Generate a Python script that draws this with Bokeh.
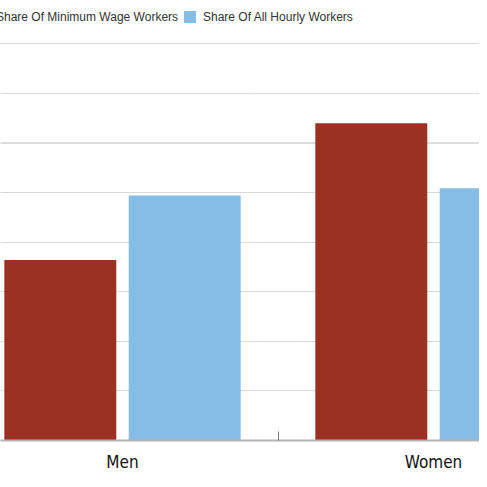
from bokeh.plotting import figure
from bokeh.models import Range1d, FixedTicker, Legend, LegendItem, Span, ColumnDataSource
from bokeh.embed import file_html
from bokeh.resources import INLINE

categories = ["Men", "Women"]
min_wage_share = [36.4, 64.0]
hourly_share = [49.4, 50.9]
series_names = ["Share Of Minimum Wage Workers", "Share Of All Hourly Workers"]
grid_ticks = [10, 20, 30, 40, 50, 60, 70, 80]
RED = "#9a3122"
BLUE = "#85bde6"

xs = list(range(len(categories)))
src = ColumnDataSource(dict(
    x=xs,
    xmin=[v - 0.2 for v in xs],
    xhr=[v + 0.2 for v in xs],
    mw=min_wage_share,
    hr=hourly_share,
))

p = figure(width=479, height=479, output_backend="svg", toolbar_location=None,
           x_range=Range1d(-0.3923, 1.1479), y_range=Range1d(0, 88.75),
           min_border_left=0, min_border_right=0, min_border_top=0, min_border_bottom=39,
           y_axis_location=None)
p.outline_line_color = None
p.background_fill_color = "white"

r1 = p.vbar(x="xmin", top="mw", width=0.36, source=src, fill_color=RED, line_color=None)
r2 = p.vbar(x="xhr", top="hr", width=0.36, source=src, fill_color=BLUE, line_color=None)

p.xgrid.visible = False
p.ygrid.ticker = FixedTicker(ticks=grid_ticks)
p.ygrid.grid_line_color = "#b5b5b5"
p.ygrid.grid_line_dash = "1 1"
p.ygrid.grid_line_width = 1

p.add_layout(Span(location=60, dimension="width", line_color="#dddddd", line_width=2, level="underlay"))

ax = p.xaxis[0]
ax.ticker = FixedTicker(ticks=xs, minor_ticks=[0.5])
ax.major_label_overrides = {i: c for i, c in zip(xs, categories)}
ax.major_tick_line_color = None
ax.major_tick_in = 0
ax.major_tick_out = 0
ax.minor_tick_in = 9
ax.minor_tick_out = 0
ax.minor_tick_line_color = "#777777"
ax.axis_line_color = "#b4b4b4"
ax.axis_line_width = 2
ax.major_label_text_font = "'DejaVu Sans Condensed', 'Liberation Sans Narrow', Roboto"
ax.major_label_text_font_size = "17px"
ax.major_label_text_color = "#111111"
ax.major_label_standoff = 11

def make_legend(renderer, label, loc):
    lg = Legend(items=[LegendItem(label=label, renderers=[renderer])],
                location=loc, orientation="horizontal",
                glyph_width=15, glyph_height=15, label_height=15,
                label_standoff=6, padding=0, margin=0, spacing=0,
                border_line_color=None, background_fill_alpha=0,
                label_text_font="Liberation Sans", label_text_font_size="12px",
                label_text_color="#333333")
    p.add_layout(lg, "center")

make_legend(r1, series_names[0], (-25, 416))
make_legend(r2, series_names[1], (182, 416))

open("out.html", "w").write(file_html(p, INLINE))
